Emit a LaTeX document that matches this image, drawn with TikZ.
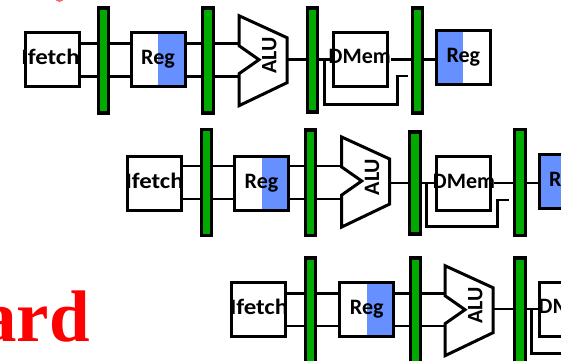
\documentclass[tikz,border=0pt]{standalone}
\usepackage{fontspec}
\setmainfont{Liberation Serif}
\newfontfamily\labelfont{Carlito}[BoldFont={Carlito Bold}]
\usetikzlibrary{calc}
\definecolor{pipegreen}{RGB}{0,170,0}
\definecolor{regblue}{RGB}{102,144,255}
\newcommand{\wideif}{\scalebox{1.13}[1]{Ifetch}}
\tikzset{
  wire/.style={draw=black,line width=2.8pt,line join=miter},
  unit/.style={draw=black,fill=white,line width=3pt,minimum width=54pt,minimum height=54pt,inner sep=0pt,outer sep=0pt},
  pipereg/.style={draw=black,fill=pipegreen,line width=3.2pt,minimum width=10.3pt,inner sep=0pt,outer sep=0pt},
  lab/.style={font=\labelfont\bfseries\fontsize{22}{22}\selectfont,inner sep=0pt,text=black},
  alulab/.style={lab,rotate=90},
  alushape/.style={draw=black,fill=white,line width=3pt,line join=miter},
}
% name, cx, ytop, ybot
\newcommand{\pipe}[4]{\node[pipereg,minimum height={(#4-#3)*1pt}] (#1) at (#2,{(#3+#4)/2}) {};}
% name, x top-left, y top-left
\newcommand{\aluunit}[3]{%
  \coordinate (#1a) at (#2,#3+30);
  \coordinate (#1b) at (#2,#3+58);
  \coordinate (#1o) at (#2+48,#3+44);
  \draw[alushape] (#2,#3) -- (#2+48,#3+22) -- (#2+48,#3+67) -- (#2,#3+90) -- (#1b) -- (#2+20,#3+44) -- (#1a) -- cycle;
  \node[alulab] (#1l) at (#2+30.3,#3+40) {ALU};}
% name, cx, cy, side: blue left / right
\newcommand{\regright}[3]{%
  \node[unit] (#1) at (#2,#3) {};
  \fill[regblue] (#1.north) rectangle (#1.south east);
  \draw[line width=3pt] (#1.north west) rectangle (#1.south east);
  \node[lab] (#1l) at (#2,#3) {Reg};}
\newcommand{\regleft}[3]{%
  \node[unit] (#1) at (#2,#3) {};
  \fill[regblue] (#1.north west) rectangle (#1.south);
  \draw[line width=3pt] (#1.north west) rectangle (#1.south east);
  \node[lab] (#1l) at (#2,#3) {Reg};}
\begin{document}
\begin{tikzpicture}[x=1pt,y=-1pt]
\useasboundingbox (0,0) rectangle (561,360);
\clip (0,0) rectangle (561,360);
\fill[white] (0,0) rectangle (561,360);
% title fragments
\fill[red!60] (59.5,-2.5) circle (4.5);
\node[anchor=base east,inner sep=0pt,text=red,font=\bfseries\fontsize{73}{73}\selectfont] (title) at (90,341.5) {ard};

% level coordinates
\coordinate (ta) at (0,43.5); \coordinate (tb) at (0,76.5); \coordinate (tc) at (0,59.5);
\coordinate (ma) at (0,166); \coordinate (mb) at (0,199); \coordinate (mc) at (0,183);
\coordinate (ba) at (0,293.3); \coordinate (bb) at (0,326); \coordinate (bc) at (0,309);

% ---------- row 1
\node[unit] (if1) at (52,59) {};
\node[lab] (if1l) at (50.5,56.5) {\wideif};
\pipe{p11}{103.5}{8}{113}
\regright{r1}{158}{59}
\pipe{p12}{208}{8}{113}
\aluunit{a1}{239}{15.7}
\pipe{p13}{312.5}{8}{112}
\node[unit] (d1) at (360,59) {};
\node[lab] (d1l) at (359.7,56.5) {DMem};
\pipe{p14}{417.5}{8}{113}
\regleft{w1}{463.3}{57.5}
\coordinate (f1s) at (324.3,59.5); \coordinate (f1c) at (324.3,104.7);
\coordinate (f1d) at (397.7,104.7); \coordinate (f1e) at (397.7,76); \coordinate (f1f) at (407.7,76);
\coordinate (g1) at (391,59.5);
\draw[wire] (if1.east |- ta) -- (p11.west |- ta);
\draw[wire] (if1.east |- tb) -- (p11.west |- tb);
\draw[wire] (p11.east |- ta) -- (r1.west |- ta);
\draw[wire] (p11.east |- tb) -- (r1.west |- tb);
\draw[wire] (r1.east |- ta) -- (p12.west |- ta);
\draw[wire] (r1.east |- tb) -- (p12.west |- tb);
\draw[wire] (p12.east |- ta) -- (a1a |- ta);
\draw[wire] (p12.east |- tb) -- (a1b |- tb);
\draw[wire] (a1o |- tc) -- (p13.west |- tc);
\draw[wire] (p13.east |- tc) -- (d1.west |- tc);
\draw[wire] (g1) -- (p14.west |- tc);
\draw[wire] (p14.east |- tc) -- (w1.west |- tc);
\draw[wire] (f1s) -- (f1c) -- (f1d) -- (f1e) -- (f1f);

% ---------- row 2
\node[unit] (if2) at (154,183.3) {};
\node[lab] (if2l) at (154.5,181) {\wideif};
\pipe{p21}{206.5}{129.5}{235.5}
\regright{r2}{261.5}{183.3}
\pipe{p22}{310.7}{130}{235.5}
\aluunit{a2}{341.7}{137}
\pipe{p23}{415}{132}{234}
\node[unit] (d2) at (463.3,183.5) {};
\node[lab] (d2l) at (464,181) {DMem};
\pipe{p24}{520}{129.5}{235.5}
\regleft{w2}{566}{181.7}
\coordinate (f2s) at (426.7,183); \coordinate (f2c) at (426.7,226.7);
\coordinate (f2d) at (497.7,226.7); \coordinate (f2e) at (497.7,200); \coordinate (f2f) at (509.3,200);
\coordinate (g2) at (494.3,183);
\draw[wire] (if2.east |- ma) -- (p21.west |- ma);
\draw[wire] (if2.east |- mb) -- (p21.west |- mb);
\draw[wire] (p21.east |- ma) -- (r2.west |- ma);
\draw[wire] (p21.east |- mb) -- (r2.west |- mb);
\draw[wire] (r2.east |- ma) -- (p22.west |- ma);
\draw[wire] (r2.east |- mb) -- (p22.west |- mb);
\draw[wire] (p22.east |- ma) -- (a2a |- ma);
\draw[wire] (p22.east |- mb) -- (a2b |- mb);
\draw[wire] (a2o |- mc) -- (p23.west |- mc);
\draw[wire] (p23.east |- mc) -- (d2.west |- mc);
\draw[wire] (g2) -- (p24.west |- mc);
\draw[wire] (p24.east |- mc) -- (w2.west |- mc);
\draw[wire] (f2s) -- (f2c) -- (f2d) -- (f2e) -- (f2f);

% ---------- row 3
\node[unit] (if3) at (258.3,309) {};
\node[lab] (if3l) at (259,306.5) {\wideif};
\pipe{p31}{310.5}{258}{368}
\regright{r3}{366.7}{309.3}
\pipe{p32}{415.5}{258}{368}
\aluunit{a3}{445}{265.7}
\pipe{p33}{520}{258}{368}
\node[unit] (d3) at (566,309) {};
\node[lab,anchor=west] (d3l) at (538.5,306.5) {DMem};
\coordinate (f3s) at (531.7,309); \coordinate (f3c) at (531.7,353.3);
\coordinate (f3d) at (575,353.3);
\draw[wire] (if3.east |- ba) -- (p31.west |- ba);
\draw[wire] (if3.east |- bb) -- (p31.west |- bb);
\draw[wire] (p31.east |- ba) -- (r3.west |- ba);
\draw[wire] (p31.east |- bb) -- (r3.west |- bb);
\draw[wire] (r3.east |- ba) -- (p32.west |- ba);
\draw[wire] (r3.east |- bb) -- (p32.west |- bb);
\draw[wire] (p32.east |- ba) -- (a3a |- ba);
\draw[wire] (p32.east |- bb) -- (a3b |- bb);
\draw[wire] (a3o |- bc) -- (p33.west |- bc);
\draw[wire] (p33.east |- bc) -- (d3.west |- bc);
\draw[wire] (f3s) -- (f3c) -- (f3d);
\end{tikzpicture}
\end{document}
